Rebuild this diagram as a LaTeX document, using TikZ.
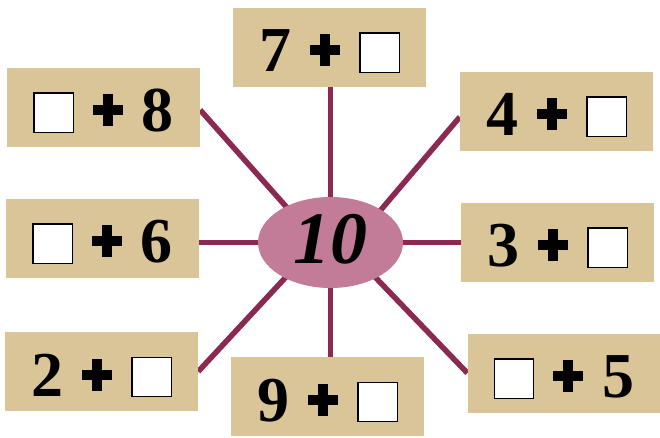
\documentclass[tikz,border=0pt]{standalone}
\usepackage{fontspec}
\setmainfont{Liberation Serif}
\usetikzlibrary{shapes.geometric,backgrounds}
\definecolor{boxtan}{RGB}{217,197,152}
\definecolor{ovalpink}{RGB}{194,124,152}
\definecolor{spoke}{RGB}{138,42,82}
\newcommand{\sqb}{{\setlength{\fboxsep}{0pt}\setlength{\fboxrule}{1.2pt}\fcolorbox{black}{white}{\rule{0pt}{38pt}\hspace{38pt}}}}
\newcommand{\plb}{\makebox[30pt][l]{\rule[16.5pt]{30pt}{10pt}\hspace{-20pt}\rule[5.5pt]{10pt}{32pt}}}
\newcommand{\gp}{\hspace{19pt}}
\begin{document}
\begin{tikzpicture}[x=1pt,y=-1pt,
  numbox/.style={fill=boxtan, minimum width=193pt, minimum height=79pt, inner sep=0pt,
    text height=49pt, text depth=0pt, font=\fontsize{64}{64}\selectfont\bfseries},
  spokeline/.style={draw=spoke, line width=5.5pt}]
\useasboundingbox (0,0) rectangle (660,437);
\node[numbox] (t)  at (329.5,47)  {7\gp\plb\gp\sqb};
\node[numbox] (tl) at (103.5,107) {\sqb\gp\plb\gp 8};
\node[numbox] (tr) at (556.5,111) {4\gp\plb\gp\sqb};
\node[numbox] (ml) at (102.5,238) {\sqb\gp\plb\gp 6};
\node[numbox] (mr) at (557.5,242) {3\gp\plb\gp\sqb};
\node[numbox] (bl) at (101.5,371.5) {2\gp\plb\gp\sqb};
\node[numbox] (b)  at (327.5,396.5) {9\gp\plb\gp\sqb};
\node[numbox] (br) at (564,373) {\sqb\gp\plb\gp 5};
\node[ellipse, fill=ovalpink, minimum width=145pt, minimum height=91pt, inner sep=0pt,
  text height=50pt, text depth=9pt, font=\fontsize{74}{74}\selectfont\bfseries\itshape]
  (e) at (330.5,242.5) {10};
\begin{pgfonlayer}{background}
\fill[white] (0,0) rectangle (660,437);
\draw[spokeline, shorten <=-8pt] (e.north) -- (e.north |- t.south);
\draw[spokeline, shorten <=-8pt] (e.south) -- (e.south |- b.north);
\draw[spokeline, shorten <=-8pt] (e.west) -- (e.west -| ml.east);
\draw[spokeline, shorten <=-8pt] (e.east) -- (e.east -| mr.west);
\draw[spokeline, shorten <=-8pt] (e.141.6) -- ([yshift=-3pt]tl.east);
\draw[spokeline, shorten <=-8pt] (e.33.3) -- ([yshift=-6pt]tr.west);
\draw[spokeline, shorten <=-8pt] (e.218.3) -- (bl.east);
\draw[spokeline, shorten <=-8pt] (e.322.8) -- (br.west);
\end{pgfonlayer}
\end{tikzpicture}
\end{document}
